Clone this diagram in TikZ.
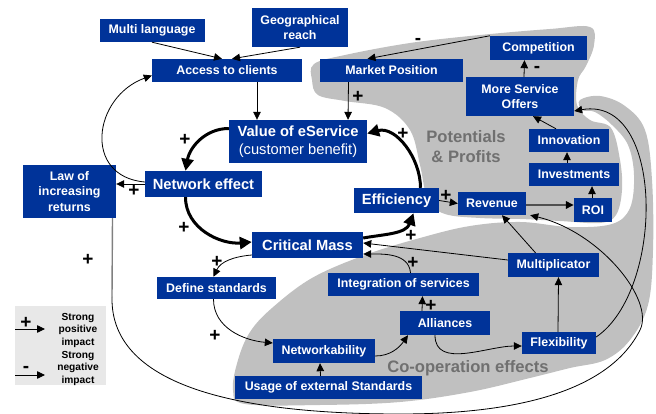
\documentclass[tikz,border=0pt]{standalone}
\usepackage{fontspec}
\setsansfont{Liberation Sans}
\usetikzlibrary{arrows.meta, backgrounds}
\definecolor{azulNodo}{HTML}{003399}
\definecolor{grisZona}{HTML}{C0C0C0}
\definecolor{grisTexto}{HTML}{707070}
\definecolor{grisLinea}{HTML}{505050}
\definecolor{grisLey}{HTML}{E8E8E8}

\begin{document}
\begin{tikzpicture}[x=1pt, y=-1pt,
        factor/.style={fill=azulNodo, text=white, inner sep=0pt, align=center,
            font=\sffamily\bfseries\fontsize{12.4}{15.5}\selectfont},
        core/.style={factor, font=\sffamily\bfseries\fontsize{14.7}{18}\selectfont},
        zone/.style={fill=grisZona, draw=none},
        zonetext/.style={text=grisTexto, align=center,
            font=\sffamily\bfseries\fontsize{16.6}{20}\selectfont},
        rel/.style={-{Triangle[length=8pt, width=7.5pt]}, line width=0.8pt},
        strong/.style={-{Triangle[length=12pt, width=12pt]}, line width=3pt},
        flat/.style={-{Triangle[length=8pt, width=7.5pt, color=black]}, draw=grisLinea, line width=1.6pt},
        sign/.style={inner sep=0pt, font=\sffamily\bfseries\fontsize{19}{19}\selectfont},
        legend/.style={inner sep=0pt, align=center, font=\sffamily\bfseries\fontsize{10.2}{12.5}\selectfont}
    ]
        \useasboundingbox (0,0) rectangle (656,414);

        \node[factor, minimum width=105pt, minimum height=23pt] (multi) at (152,30.5) {Multi language};
        \node[factor, minimum width=96pt, minimum height=39pt] (geo) at (300,27.5) {Geographical\\reach};
        \node[factor, minimum width=150pt, minimum height=23pt] (access) at (227,70.5) {Access to clients};
        \node[factor, minimum width=143pt, minimum height=23pt] (market) at (391.5,70.5) {Market Position};
        \node[factor, minimum width=97pt, minimum height=24pt] (comp) at (538.5,48) {Competition};
        \node[factor, minimum width=108pt, minimum height=39pt] (more) at (520,96.5) {More Service\\Offers};
        \node[core, minimum width=138pt, minimum height=43pt] (value) at (298,141.5)
            {Value of eService\\{\mdseries (customer benefit)}};
        \node[core, minimum width=117pt, minimum height=26pt] (network) at (203.5,184) {Network effect};
        \node[factor, minimum width=93pt, minimum height=53pt] (law) at (69.5,191.5) {Law of\\increasing\\returns};
        \node[core, minimum width=85pt, minimum height=25pt] (eff) at (396.5,200.5) {Efficiency};
        \node[factor, minimum width=68pt, minimum height=23pt] (revenue) at (492,203.5) {Revenue};
        \node[factor, minimum width=38pt, minimum height=24pt] (roi) at (593,210) {ROI};
        \node[factor, minimum width=90pt, minimum height=23pt] (invest) at (574,174.5) {Investments};
        \node[factor, minimum width=80pt, minimum height=23pt] (innov) at (569,140.5) {Innovation};
        \node[core, minimum width=111pt, minimum height=26pt] (critical) at (307.5,245) {Critical Mass};
        \node[factor, minimum width=119pt, minimum height=22pt] (define) at (216.5,288) {Define standards};
        \node[factor, minimum width=151pt, minimum height=23pt] (integ) at (403.5,284.5) {Integration of services};
        \node[factor, minimum width=91pt, minimum height=24pt] (multip) at (553.5,265) {Multiplicator};
        \node[factor, minimum width=90pt, minimum height=24pt] (alliances) at (445,323) {Alliances};
        \node[factor, minimum width=74pt, minimum height=22pt] (flex) at (559,343) {Flexibility};
        \node[factor, minimum width=102pt, minimum height=24pt] (netw) at (324,351) {Networkability};
        \node[factor, minimum width=187pt, minimum height=23pt] (usage) at (328.5,387.5) {Usage of external Standards};

        \node[zonetext] (potentials) at (466,147) {Potentials\\\& Profits};
        \node[zonetext] (coop) at (468,368) {Co-operation effects};

        \draw[rel] (multi.south) -- ([xshift=-5]access.north);
        \draw[rel] (geo.south) -- ([xshift=5]access.north);
        \draw[rel] ([xshift=30]access.south) -- ([xshift=-41]value.north);
        \draw[rel] ([xshift=-43]market.south) -- ([xshift=50]value.north);
        \draw[rel] (comp.north west) -- ([xshift=-24]market.north);
        \draw[rel] ([xshift=4]more.north) -- ([xshift=-14]comp.south);
        \draw[rel] ([xshift=-13]innov.north) -- ([xshift=13]more.south);
        \draw[rel] ([xshift=-7]invest.north) -- ([xshift=-2]innov.south);
        \draw[rel] ([xshift=-1]roi.north) -- ([xshift=18]invest.south);
        \draw[flat] ([yshift=-1.5]revenue.east) -- ([yshift=-1.5]revenue.east -| roi.west);
        \draw[rel] (eff.east) -- (revenue.west);
        \draw[rel] (network.west) -- (network.west -| law.east);
        \draw[rel] ([yshift=2]network.west) to[out=175, in=200, looseness=1.5] ([yshift=-5]access.west);

        \draw[strong] ([yshift=13]value.west) to[out=180, in=80] ([xshift=-18]network.north);
        \draw[strong] ([xshift=-18]network.south) to[out=270, in=185] ([yshift=3]critical.west);
        \draw[strong] ([yshift=7]critical.east) to[out=10, in=250] ([xshift=17]eff.south);
        \draw[strong] ([xshift=24]eff.north) to[out=90, in=15] ([yshift=8]value.east);

        \draw[rel] ([yshift=-10]critical.west) to[out=185, in=65] ([xshift=-3]define.north);
        \draw[rel] ([xshift=-3]define.south) to[out=270, in=175] ([yshift=8]netw.west);
        \draw[rel] ([xshift=-8]usage.north) -- ([xshift=-4]netw.south);
        \draw[rel] ([yshift=-5]netw.east) to[out=0, in=235] ([xshift=-37]alliances.south);
        \draw[rel] ([xshift=-23]alliances.north) -- ([xshift=19]integ.south);
        \draw[rel] ([xshift=7]integ.north) to[out=95, in=0] ([yshift=-9]critical.east);
        \draw[rel] ([yshift=5]multip.west) -- ([yshift=2]critical.east);
        \draw[rel] ([xshift=-18]multip.north) -- ([xshift=10]revenue.south);
        \draw[rel] ([xshift=-1]flex.north) -- ([xshift=5]multip.south);
        \draw[rel] ([xshift=-10]alliances.south) to[out=270, in=180] ([yshift=-3]flex.west);
        \draw[rel] ([yshift=6]flex.east) .. controls (665,290) and (665,95) .. ([yshift=-14.5]more.east);

        \coordinate (lawbend) at (112,297);
        \draw[draw=gray, line width=1.4pt] ([xshift=43]law.south) -- (lawbend);
        \draw[rel] (lawbend) .. controls (110,390) and (250,414) .. (400,414)
            .. controls (520,414) and (610,390) .. (640,330)
            .. controls (655,300) and (600,232) .. ([xshift=4]revenue.south east);

        \node[sign] (sgMarket) at (358,97) {+};
        \node[sign] (sgComp) at (418,41) {-};
        \node[sign] (sgMore) at (537,69) {-};
        \node[sign] (sgValue) at (185,140) {+};
        \node[sign] (sgLaw) at (134,191) {+};
        \node[sign] (sgNet) at (184,228) {+};
        \node[sign] (sgEffA) at (403,134) {+};
        \node[sign] (sgEffB) at (411,236) {+};
        \node[sign] (sgRev) at (446,196) {+};
        \node[sign] (sgLong) at (88,260) {+};
        \node[sign] (sgDefine) at (217,262) {+};
        \node[sign] (sgNetw) at (215,336) {+};
        \node[sign] (sgInteg) at (413,263) {+};
        \node[sign] (sgAll) at (431,306) {+};

        \fill[grisLey] (15,306) rectangle (106,385);
        \coordinate (posA) at (15,329);
        \coordinate (posB) at (45,329);
        \coordinate (negA) at (15,375);
        \coordinate (negB) at (45,375);
        \draw[rel] (posA) -- (posB);
        \draw[rel] (negA) -- (negB);
        \node[sign] (sgLegPos) at (26,323) {+};
        \node[sign] (sgLegNeg) at (26,369) {-};
        \node[legend] (legPos) at (78,330) {Strong\\positive\\impact};
        \node[legend] (legNeg) at (78,368) {Strong\\negative\\impact};

        \begin{scope}[on background layer]
            \fill[zone] plot[smooth cycle, tension=0.6] coordinates {
                (314,64) (345,55) (410,43) (480,35) (550,29) (590,27) (594,45) (586,66)
                (578,80) (577,105) (590,120) (611,128) (620,160) (622,190) (616,215)
                (600,223) (560,221) (520,219) (480,218) (445,214) (428,200) (420,165)
                (410,130) (385,108) (345,101) (318,95) (312,80)};
            \fill[zone] plot[smooth cycle, tension=0.6] coordinates {
                (580,100) (600,96) (625,106) (645,130) (652,180) (653,250) (648,305)
                (630,340) (605,360) (570,368) (530,378) (470,392) (400,402) (320,405)
                (245,404) (233,390) (238,360) (250,332) (272,308) (312,278) (365,255)
                (420,238) (470,226) (520,222) (570,227) (612,224) (630,208) (634,175)
                (628,145) (612,125) (595,112) (582,110)};
        \end{scope}
\end{tikzpicture}
\end{document}
